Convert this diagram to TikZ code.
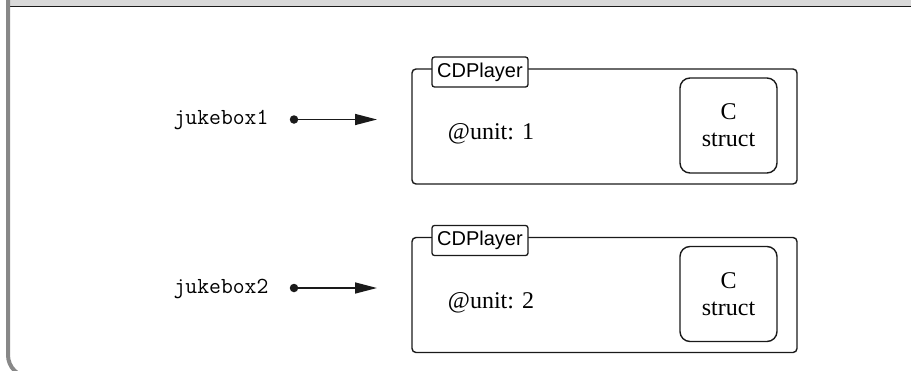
\documentclass[tikz,border=0pt]{standalone}
\usepackage{fontspec}
\setmainfont{Liberation Serif}
\setsansfont{Liberation Sans}
\usetikzlibrary{arrows.meta}
\definecolor{ink}{HTML}{1A1A1A}
\definecolor{bandgray}{HTML}{D9D9D9}
\definecolor{framegray}{HTML}{888888}
\tikzset{
  objbox/.style={draw=ink, line width=1.4pt, rounded corners=4pt, minimum width=385pt, minimum height=115pt, inner sep=0pt},
  structbox/.style={draw=ink, line width=1.4pt, rounded corners=10pt, minimum width=97pt, minimum height=95pt, align=center, font=\fontsize{24}{27}\selectfont},
  tagbox/.style={draw=ink, line width=1.3pt, rounded corners=2.5pt, fill=white, minimum width=96pt, minimum height=30pt, inner sep=0pt, font=\sffamily\fontsize{20}{24}\selectfont},
  varlabel/.style={font=\ttfamily\fontsize{23}{27}\selectfont, inner sep=0pt},
  ivar/.style={font=\fontsize{24}{27}\selectfont, inner sep=0pt},
  refdot/.style={circle, fill=ink, inner sep=0pt, minimum size=8.5pt},
  refarrow/.style={draw=ink, line width=1.5pt, -{Triangle[length=22pt, width=11pt]}}
}
\begin{document}
\begin{tikzpicture}[x=1pt, y=-1pt]
\useasboundingbox (0,0) rectangle (911,370);
\clip (0,0) rectangle (911,370);
% window frame
\fill[bandgray] (10,0) rectangle (911,6.3);
\draw[ink, line width=1.3pt] (10,6.6) -- (911,6.6);
\draw[framegray, line width=4pt, rounded corners=22pt] (8,-5) -- (8,377) -- (60,377);
% row 1
\node[varlabel] (j1) at (221,120) {jukebox1};
\node[refdot] (d1) at (294,119.5) {};
\coordinate (t1) at (377,119.5);
\draw[refarrow] (d1.center) -- (t1);
\node[objbox] (obj1) at (604.5,126.5) {};
\node[tagbox] (tag1) at (480,72) {CDPlayer};
\node[ivar] (u1) at (491,134) {@unit: 1};
\node[structbox] (cs1) at (728.5,125.5) {C\\struct};
% row 2
\node[varlabel] (j2) at (221,288.5) {jukebox2};
\node[refdot] (d2) at (294,288) {};
\coordinate (t2) at (377,288);
\draw[refarrow] (d2.center) -- (t2);
\node[objbox] (obj2) at (604.5,295) {};
\node[tagbox] (tag2) at (480,240.5) {CDPlayer};
\node[ivar] (u2) at (491,302.5) {@unit: 2};
\node[structbox] (cs2) at (728.5,294) {C\\struct};
\end{tikzpicture}
\end{document}
